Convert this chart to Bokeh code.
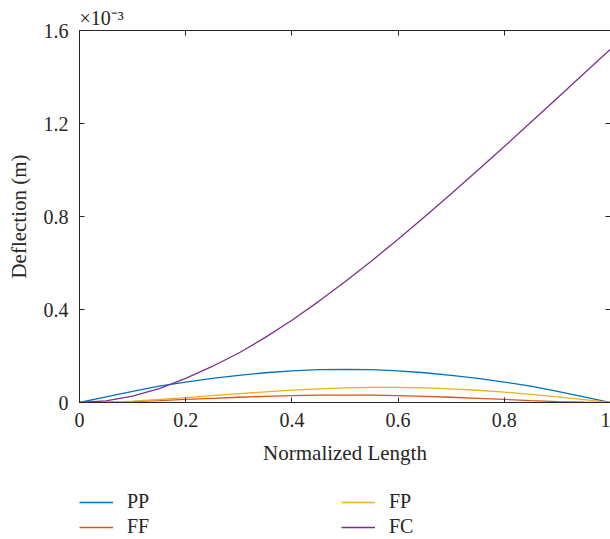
from bokeh.plotting import figure
from bokeh.models import Range1d, FixedTicker, LinearAxis, Legend, LegendItem
from bokeh.layouts import column
from bokeh.embed import file_html
from bokeh.resources import INLINE

# Normalized length
x = [0.0, 0.05, 0.1, 0.15, 0.2, 0.25, 0.3, 0.35, 0.4, 0.45, 0.5,
     0.55, 0.6, 0.65, 0.7, 0.75, 0.8, 0.85, 0.9, 0.95, 1.0]
# Deflection, in units of 1e-3 m
pp = [0.0, 0.024, 0.048, 0.070, 0.088, 0.104, 0.117, 0.128, 0.136, 0.141, 0.142,
      0.141, 0.136, 0.128, 0.117, 0.104, 0.088, 0.070, 0.048, 0.024, 0.0]
ff = [0.0, 0.0012, 0.0041, 0.0083, 0.0131, 0.018, 0.0226, 0.0265, 0.0295, 0.0314, 0.032,
      0.0314, 0.0295, 0.0265, 0.0226, 0.018, 0.0131, 0.0083, 0.0041, 0.0012, 0.0]
fp = [0.0, 0.0017, 0.0063, 0.0129, 0.0208, 0.0293, 0.0378, 0.0458, 0.0528, 0.0585, 0.0625,
      0.0647, 0.0648, 0.0628, 0.0588, 0.0527, 0.0448, 0.0352, 0.0243, 0.0124, 0.0]
fc = [0.0, 0.0069, 0.027, 0.060, 0.104, 0.155, 0.213, 0.280, 0.354, 0.434, 0.519,
      0.609, 0.702, 0.799, 0.898, 0.999, 1.101, 1.205, 1.310, 1.415, 1.52]

series_names = ["PP", "FF", "FP", "FC"]
colors = ["#0072BD", "#D95319", "#EDB120", "#7E2F8E"]
x_ticks = [0, 0.2, 0.4, 0.6, 0.8, 1.0]
y_ticks = [0, 0.4, 0.8, 1.2, 1.6]

FONT = "Liberation Serif"
AX = "#262626"

def bare(fig):
    fig.grid.visible = False
    fig.outline_line_color = None
    fig.background_fill_color = "white"
    fig.border_fill_color = "white"

p = figure(width=610, height=480, output_backend="svg", toolbar_location=None,
           x_range=Range1d(0, 1), y_range=Range1d(0, 1.6),
           title="×10⁻³",
           min_border_left=79, min_border_top=30, min_border_right=0, min_border_bottom=78)
bare(p)
p.title.align = "left"
p.title.offset = 0
p.title.standoff = 4
p.title.text_font = FONT
p.title.text_font_size = "20px"
p.title.text_font_style = "normal"
p.title.text_color = AX

renderers = []
for ys, c in zip([pp, ff, fp, fc], colors):
    r = p.line(x, ys, line_color=c, line_width=1.3)
    renderers.append(r)

def style(ax, labels=True):
    ax.axis_line_color = AX
    ax.axis_line_width = 1
    ax.major_tick_line_color = AX
    ax.major_tick_in = 5
    ax.major_tick_out = 0
    ax.minor_tick_line_color = None
    ax.major_label_text_font = FONT
    ax.major_label_text_font_size = "20px"
    ax.major_label_text_color = AX
    ax.axis_label_text_font = FONT
    ax.axis_label_text_font_size = "21px"
    ax.axis_label_text_font_style = "normal"
    ax.axis_label_text_color = AX
    if not labels:
        ax.major_label_text_font_size = "1px"
        ax.major_label_standoff = 0

xa = p.xaxis[0]
xa.ticker = FixedTicker(ticks=x_ticks)
xa.major_label_overrides = {0: "0", 1: "1"}
xa.axis_label = "Normalized Length"
xa.major_label_standoff = 10
xa.axis_label_standoff = 11
style(xa)

ya = p.yaxis[0]
ya.ticker = FixedTicker(ticks=y_ticks)
ya.major_label_overrides = {0: "0"}
ya.axis_label = "Deflection (m)"
ya.major_label_standoff = 11
ya.axis_label_standoff = 10
style(ya)

top = LinearAxis(ticker=FixedTicker(ticks=x_ticks),
                 major_label_overrides={t: "" for t in x_ticks})
style(top, labels=False)
p.add_layout(top, "above")
right = LinearAxis(ticker=FixedTicker(ticks=y_ticks),
                   major_label_overrides={t: "" for t in y_ticks})
style(right, labels=False)
p.add_layout(right, "right")

# legend in its own strip below the plot
lf = figure(width=610, height=59, output_backend="svg", toolbar_location=None,
            x_range=Range1d(0, 1), y_range=Range1d(0, 1),
            x_axis_type=None, y_axis_type=None,
            min_border_left=0, min_border_right=0, min_border_top=0, min_border_bottom=0)
bare(lf)
lf_renderers = []
for c in colors:
    lf_renderers.append(lf.line([5, 6], [5, 6], line_color=c, line_width=1.3))

items = [LegendItem(label=n, renderers=[r]) for n, r in zip(series_names, lf_renderers)]
leg = Legend(items=items, nrows=2, orientation="vertical", location=(0, 1),
             label_text_font=FONT, label_text_font_size="20px", label_text_color=AX,
             glyph_width=34, label_standoff=14, label_width=212, spacing=2,
             border_line_color=None, background_fill_alpha=0,
             margin=0, padding=0, label_height=20, glyph_height=20)
lf.add_layout(leg, "center")

layout = column(p, lf, spacing=0)
open("out.html", "w").write(file_html(layout, INLINE))
